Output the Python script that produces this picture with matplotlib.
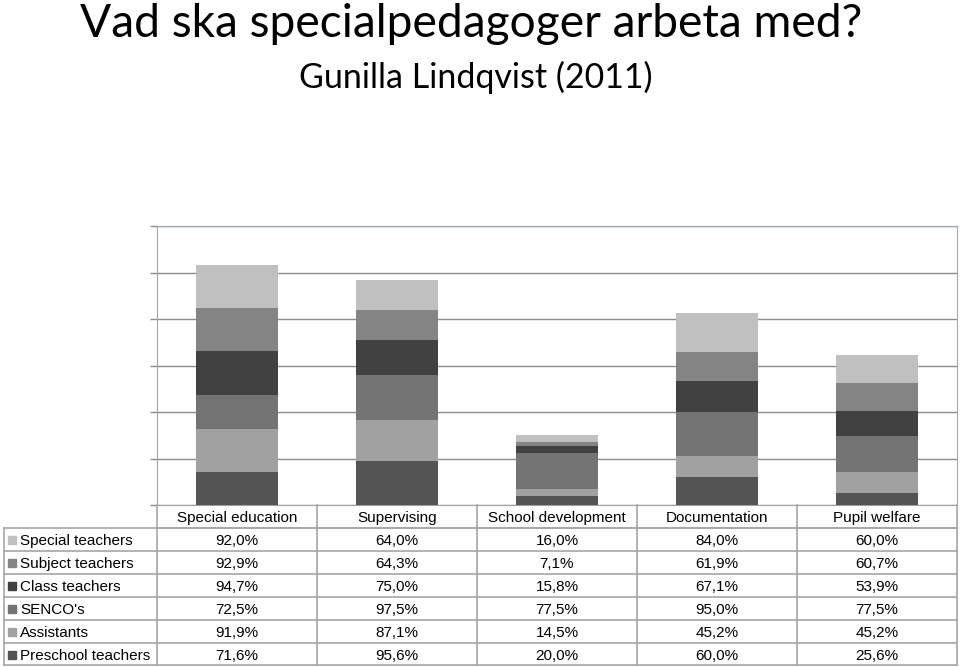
import matplotlib
matplotlib.use("Agg")
import matplotlib.pyplot as plt
import numpy as np

categories = ['Special education', 'Supervising', 'School development', 'Documentation', 'Pupil welfare']
series_names = ['Special teachers', 'Subject teachers', 'Class teachers', "SENCO's", 'Assistants', 'Preschool teachers']
special_teachers = [92.0, 64.0, 16.0, 84.0, 60.0]
subject_teachers = [92.9, 64.3, 7.1, 61.9, 60.7]
class_teachers = [94.7, 75.0, 15.8, 67.1, 53.9]
sencos = [72.5, 97.5, 77.5, 95.0, 77.5]
assistants = [91.9, 87.1, 14.5, 45.2, 45.2]
preschool_teachers = [71.6, 95.6, 20.0, 60.0, 25.6]
series_values = [special_teachers, subject_teachers, class_teachers, sencos, assistants, preschool_teachers]
series_colors = ['#c0c0c0', '#848484', '#414141', '#737373', '#a1a1a1', '#545454']

title = 'Vad ska specialpedagoger arbeta med?'
subtitle = 'Gunilla Lindqvist (2011)'

W, H = 960, 667
fig = plt.figure(figsize=(W / 100, H / 100), dpi=100)

# pixel layout
plot_left, plot_right, plot_top, plot_bottom = 157, 957, 226, 505
ax = fig.add_axes([plot_left / W, 1 - plot_bottom / H,
                   (plot_right - plot_left) / W, (plot_bottom - plot_top) / H])

x = np.arange(len(categories))
bottom = np.zeros(len(categories))
# stack from the last table row (bottom) to the first (top)
for name, vals, col in reversed(list(zip(series_names, series_values, series_colors))):
    ax.bar(x, vals, width=0.51, bottom=bottom, color=col, label=name, zorder=3)
    bottom += np.array(vals)

ax.set_xlim(-0.5, len(categories) - 0.5)
ax.set_ylim(0, 600)
ax.set_yticks(np.arange(0, 601, 100))
ax.set_yticklabels([])
ax.set_xticks([])
ax.tick_params(axis='y', length=5, color='#8c8c8c', width=1)
ax.yaxis.grid(True, color='#8c8c8c', linewidth=1, zorder=0)
for side in ['top', 'left']:
    ax.spines[side].set_color('#94a7bf')
ax.spines['right'].set_color('#a8a8a8')
ax.spines['bottom'].set_color('#a0a0a0')

# overlay axes in pixel coordinates for the data table and titles
tab = fig.add_axes([0, 0, 1, 1], facecolor='none')
tab.set_xlim(0, W)
tab.set_ylim(H, 0)
tab.axis('off')

line_col = '#a6a6a6'
col_w = (plot_right - plot_left) / len(categories)
label_left = 4
row_edges = [505, 528, 551, 574, 597, 620, 643, 665]

# horizontal lines
tab.plot([plot_left, plot_right], [row_edges[1], row_edges[1]], color=line_col, lw=1.2)
for yy in row_edges[1:]:
    tab.plot([label_left, plot_right], [yy, yy], color=line_col, lw=1.2)
# vertical lines
for i in range(len(categories) + 1):
    xx = plot_left + i * col_w
    tab.plot([xx, xx], [row_edges[0], row_edges[-1]], color=line_col, lw=1.2)
tab.plot([label_left, label_left], [row_edges[1], row_edges[-1]], color=line_col, lw=1.2)

fs = 11
font = 'Liberation Sans'
for i, cat in enumerate(categories):
    tab.text(plot_left + (i + 0.5) * col_w, (row_edges[0] + row_edges[1]) / 2, cat,
             ha='center', va='center_baseline', fontsize=fs, family=font)

for r, (name, vals, col) in enumerate(zip(series_names, series_values, series_colors)):
    yc = (row_edges[r + 1] + row_edges[r + 2]) / 2
    tab.add_patch(plt.Rectangle((8, yc - 3.5), 8, 8, color=col))
    tab.text(20, yc, name, ha='left', va='center_baseline', fontsize=fs, family=font)
    for i, v in enumerate(vals):
        txt = f'{v:.1f}%'.replace('.', ',')
        tab.text(plot_left + (i + 0.5) * col_w, yc, txt,
                 ha='center', va='center_baseline', fontsize=fs, family=font)

tab.text(80, 37, title, ha='left', va='baseline', fontsize=33.2, family='Lato')
tab.text(476, 88, subtitle, ha='center', va='baseline', fontsize=24.5, family='Lato')

fig.savefig('out.png', dpi=100)
